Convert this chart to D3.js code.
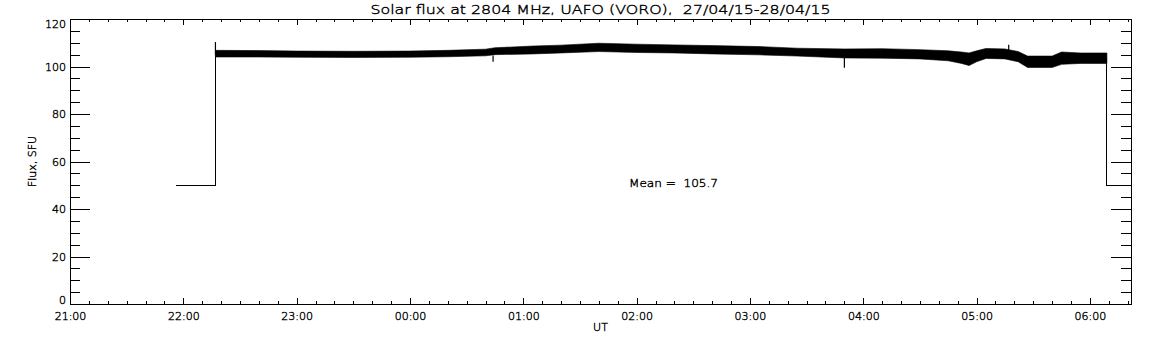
<!DOCTYPE html>
<html>
<head>
<meta charset="utf-8">
<script src="https://cdn.jsdelivr.net/npm/d3@7"></script>
<style>
  html, body { margin: 0; padding: 0; background: #fff; }
  svg { display: block; }
  text { font-family: "DejaVu Sans", sans-serif; font-weight: 200; fill: #000; stroke: #000; stroke-width: 0.4px; white-space: pre; }
</style>
</head>
<body>
<svg id="chart" width="1152" height="345"></svg>
<script>
// ---- data ----
const titleText = "Solar flux at 2804 MHz, UAFO (VORO),  27/04/15-28/04/15";
const yLabelText = "Flux, SFU";
const xLabelText = "UT";
const meanText = "Mean =  105.7";

const xDomain = ["21:00", "06:21:45"];
const yDomain = [0, 120];
const yMajorTicks = [0, 20, 40, 60, 80, 100, 120];

// envelope of the noisy flux band
const bandTimes = ["22:17","22:40","23:00","23:30","00:00","00:20","00:40","00:45","01:05","01:20","01:40","02:00","02:20","02:40","03:05","03:25","03:50","04:10","04:30","04:45","04:52","04:56","05:00","05:05","05:15","05:22","05:27","05:40","05:45","05:55","06:09"];
const bandUpper = [106.8,106.7,106.5,106.4,106.5,106.8,107.3,107.9,108.6,109.0,109.8,109.4,109.1,108.8,108.4,107.7,107.4,107.5,107.1,106.6,106.1,105.7,106.6,107.6,107.4,106.3,104.4,104.4,106.1,105.7,105.7];
const bandLower = [104.0,104.0,103.9,103.8,103.9,104.1,104.5,105.0,105.3,105.7,106.3,105.9,105.7,105.3,104.9,104.4,103.6,103.5,103.2,102.4,101.3,100.4,102.0,103.4,103.2,102.0,99.6,99.6,100.9,101.3,101.3];

// isolated spikes
const spikeTimes = ["22:17","00:44","03:50","05:17"];
const spikeFrom  = [105.0, 104.6, 105.0, 106.0];
const spikeTo    = [110.3, 102.0, 99.5, 109.2];

// flat fill level before and after the observation
const fillLevel = 50;
const preTimes = ["21:56", "22:17"];
const postTimes = ["06:09", "06:21:45"];
const postFrom = 103.5;
const preTo = 105.0;

// ---- helpers ----
function toDate(s) {
  const p = s.split(":").map(Number);
  const day = p[0] >= 21 ? 27 : 28;
  return new Date(Date.UTC(2015, 3, day, p[0], p[1], p[2] || 0));
}

const svg = d3.select("#chart");
const m = { left: 70, right: 1131, top: 19, bottom: 304 };

const x = d3.scaleUtc().domain(xDomain.map(toDate)).range([m.left, m.right]);
const y = d3.scaleLinear().domain(yDomain).range([m.bottom, m.top]);

const fmt = d3.utcFormat("%H:%M");
const majorX = d3.utcHour.every(1).range(toDate("21:00"), new Date(+toDate(xDomain[1]) + 1));
const minorX = d3.utcMinute.every(10).range(toDate("21:00"), new Date(+toDate(xDomain[1]) + 1));
const minorY = d3.range(0, 121, 5);

function styleAxis(g) {
  g.select(".domain").remove();
  g.selectAll("line").attr("stroke", "#000").attr("stroke-width", 1).attr("shape-rendering", "crispEdges");
  g.selectAll("text").attr("font-size", 11).attr("fill", "#000");
}

// bottom axis
svg.append("g").attr("transform", `translate(0,${m.bottom})`)
  .call(d3.axisBottom(x).tickValues(minorX).tickSize(-3).tickFormat(""))
  .call(styleAxis);
svg.append("g").attr("transform", `translate(0,${m.bottom})`)
  .call(d3.axisBottom(x).tickValues(majorX).tickSize(-6).tickPadding(8).tickFormat(fmt))
  .call(styleAxis);
// top axis
svg.append("g").attr("transform", `translate(0,${m.top})`)
  .call(d3.axisTop(x).tickValues(minorX).tickSize(-3).tickFormat(""))
  .call(styleAxis);
svg.append("g").attr("transform", `translate(0,${m.top})`)
  .call(d3.axisTop(x).tickValues(majorX).tickSize(-6).tickFormat(""))
  .call(styleAxis);
// left axis
svg.append("g").attr("transform", `translate(${m.left},0)`)
  .call(d3.axisLeft(y).tickValues(minorY).tickSize(-10).tickFormat(""))
  .call(styleAxis);
const ly = svg.append("g").attr("transform", `translate(${m.left},0)`)
  .call(d3.axisLeft(y).tickValues(yMajorTicks).tickSize(-20).tickPadding(4).tickFormat(d3.format("d")))
  .call(styleAxis);
ly.selectAll("text").attr("dy", d => d === 0 ? "-0.05em" : d === 120 ? "0.75em" : "0.35em");
// right axis
svg.append("g").attr("transform", `translate(${m.right},0)`)
  .call(d3.axisRight(y).tickValues(minorY).tickSize(-10).tickFormat(""))
  .call(styleAxis);
svg.append("g").attr("transform", `translate(${m.right},0)`)
  .call(d3.axisRight(y).tickValues(yMajorTicks).tickSize(-20).tickFormat(""))
  .call(styleAxis);

// frame
svg.append("rect")
  .attr("x", m.left + 0.5).attr("y", m.top + 0.5)
  .attr("width", m.right - m.left).attr("height", m.bottom - m.top)
  .attr("fill", "none").attr("stroke", "#000").attr("stroke-width", 1)
  .attr("shape-rendering", "crispEdges");

// data: fill level segments
const line = d3.line().x(d => x(d[0])).y(d => y(d[1]));
const pre = [[toDate(preTimes[0]), fillLevel], [toDate(preTimes[1]), fillLevel], [toDate(preTimes[1]), preTo]];
const post = [[toDate(postTimes[0]), postFrom], [toDate(postTimes[0]), fillLevel], [toDate(postTimes[1]), fillLevel]];
[pre, post].forEach(seg => {
  svg.append("path").attr("d", line(seg)).attr("fill", "none")
    .attr("stroke", "#000").attr("stroke-width", 1).attr("shape-rendering", "crispEdges");
});

// noisy band
const band = bandTimes.map((t, i) => ({ t: toDate(t), hi: bandUpper[i], lo: bandLower[i] }));
const area = d3.area().x(d => x(d.t)).y0(d => y(d.lo)).y1(d => y(d.hi)).curve(d3.curveLinear);
svg.append("path").attr("d", area(band)).attr("fill", "#000").attr("stroke", "#000").attr("stroke-width", 0.6);

// spikes
spikeTimes.forEach((t, i) => {
  svg.append("line")
    .attr("x1", x(toDate(t))).attr("x2", x(toDate(t)))
    .attr("y1", y(spikeFrom[i])).attr("y2", y(spikeTo[i]))
    .attr("stroke", "#000").attr("stroke-width", 1.2);
});

// texts
svg.append("text").attr("x", (m.left + m.right) / 2).attr("y", 14)
  .attr("text-anchor", "middle").attr("font-size", 13)
  .attr("textLength", 460).attr("lengthAdjust", "spacingAndGlyphs")
  .text(titleText);
svg.append("text").attr("transform", `translate(36,${(m.top + m.bottom) / 2}) rotate(-90)`)
  .attr("text-anchor", "middle").attr("font-size", 11).text(yLabelText);
svg.append("text").attr("x", (m.left + m.right) / 2).attr("y", 331)
  .attr("text-anchor", "middle").attr("font-size", 11).text(xLabelText);
svg.append("text").attr("x", 629).attr("y", 187)
  .attr("font-size", 11).attr("textLength", 89).attr("lengthAdjust", "spacingAndGlyphs")
  .text(meanText);
</script>
</body>
</html>
